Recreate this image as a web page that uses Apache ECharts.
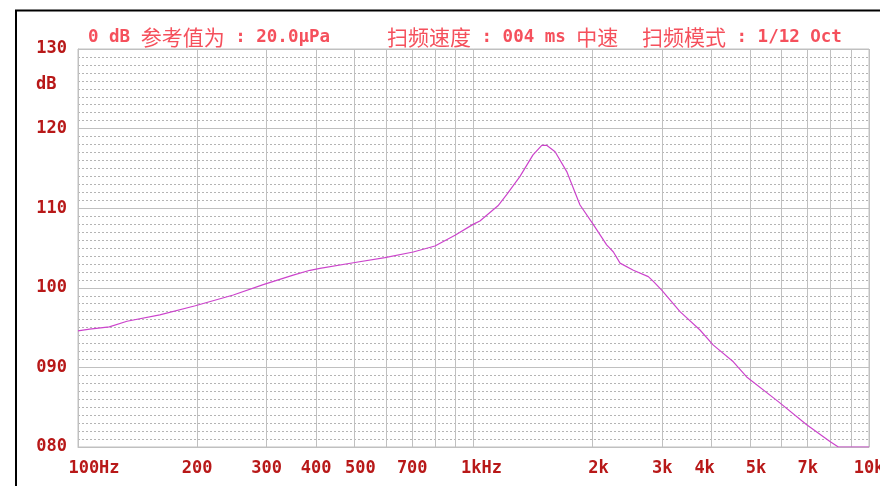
<!DOCTYPE html>
<html>
<head>
<meta charset="utf-8">
<script src="https://cdn.jsdelivr.net/npm/echarts@6/dist/echarts.min.js"></script>
<style>
  html, body { margin: 0; padding: 0; background: #fff; }
  #chart { width: 880px; height: 486px; }
</style>
</head>
<body>
<div id="chart"></div>
<script>
// 扫频曲线 (1/12 Oct)
const freqHz = [100, 107, 120, 133, 161, 198, 247, 294, 350, 386, 409, 497, 597, 704, 799, 898,
  1000, 1038, 1153, 1213, 1311, 1414, 1488, 1531, 1608, 1721, 1859, 2000, 2171, 2258, 2347,
  2536, 2767, 2849, 2991, 3328, 3738, 4040, 4539, 4906, 5898, 6958, 7967, 8364, 10000]
const levelDb = [94.6, 94.8, 95.1, 95.8, 96.6, 97.75, 99.1, 100.4, 101.6, 102.2, 102.45, 103.15, 103.8, 104.5, 105.25, 106.6,
  108.0, 108.4, 110.3, 111.7, 114.0, 116.7, 117.9, 117.9, 117.1, 114.6, 110.4, 108.1, 105.4, 104.5, 103.1,
  102.2, 101.4, 100.8, 99.7, 97.0, 94.7, 92.8, 90.7, 88.8, 85.7, 82.8, 80.7, 80.0, 80.0]

const gridFreqs = [100, 200, 300, 400, 500, 600, 700, 800, 900, 1000,
  2000, 3000, 4000, 5000, 6000, 7000, 8000, 9000, 10000]
const labelFreqs = [100, 200, 300, 400, 500, 700, 1000, 2000, 3000, 4000, 5000, 7000, 10000]
const labelText = ['100Hz', '200', '300', '400', '500', '700', '1kHz', '2k', '3k', '4k', '5k', '7k', '10k']

const dbMin = 80
const dbMax = 130
const dbStep = 10

const darkRed = '#b81818'
const titleRed = '#f5505c'
const monoFont = '"DejaVu Sans Mono", "Liberation Mono", monospace'
const cjkFont = '"Noto Sans CJK SC", sans-serif'

const chart = echarts.init(document.getElementById('chart'), null, { renderer: 'canvas' })

const titleRich = {
  l: { fontFamily: monoFont, fontWeight: 'bold', fontSize: 17.5, fill: titleRed },
  c: { fontFamily: cjkFont, fontSize: 21, fill: titleRed }
}

function titleText(x, text) {
  return {
    type: 'text',
    x: x,
    y: 37,
    silent: true,
    style: {
      text: text,
      verticalAlign: 'middle',
      rich: titleRich
    }
  }
}

const labelRich = {
  first: { padding: [0, 0, 0, 32], color: darkRed, fontFamily: monoFont, fontWeight: 'bold', fontSize: 17 },
  khz: { padding: [0, 0, 0, 16], color: darkRed, fontFamily: monoFont, fontWeight: 'bold', fontSize: 17 },
  r: { padding: [0, 0, 0, 12], color: darkRed, fontFamily: monoFont, fontWeight: 'bold', fontSize: 17 },
  lft: { padding: [0, 14, 0, 0], color: darkRed, fontFamily: monoFont, fontWeight: 'bold', fontSize: 17 }
}

const option = {
  animation: false,
  backgroundColor: '#fff',
  grid: {
    left: 78,
    top: 49,
    right: 11,
    bottom: 39,
    outerBoundsMode: 'none',
    show: true,
    borderColor: '#c0c0c0',
    borderWidth: 1
  },
  xAxis: {
    type: 'log',
    logBase: 10,
    min: 100,
    max: 10000,
    axisLine: { show: true, lineStyle: { color: '#c0c0c0' } },
    axisTick: { show: false, customValues: gridFreqs },
    axisLabel: {
      customValues: labelFreqs,
      margin: 13,
      color: darkRed,
      fontFamily: monoFont,
      fontWeight: 'bold',
      fontSize: 17,
      hideOverlap: false,
      formatter: function (v) {
        const i = labelFreqs.indexOf(Math.round(v))
        const t = i >= 0 ? labelText[i] : ''
        if (t === '100Hz') return '{first|' + t + '}'
        if (t === '1kHz') return '{khz|' + t + '}'
        if (t === '2k' || t === '5k' || t === '500') return '{r|' + t + '}'
        if (t === '4k') return '{lft|' + t + '}'
        return t
      },
      rich: labelRich
    },
    splitLine: { show: true, lineStyle: { color: '#c0c0c0', width: 1 } },
    minorSplitLine: { show: false }
  },
  yAxis: {
    type: 'value',
    min: dbMin,
    max: dbMax,
    interval: dbStep,
    axisLine: { show: true, lineStyle: { color: '#c0c0c0' } },
    axisTick: { show: false },
    axisLabel: {
      margin: 11,
      color: darkRed,
      fontFamily: monoFont,
      fontWeight: 'bold',
      fontSize: 17,
      formatter: function (v) { return String(v).padStart(3, '0') }
    },
    splitLine: { show: true, lineStyle: { color: '#c0c0c0', width: 1 } },
    minorTick: { show: false, splitNumber: 10 },
    minorSplitLine: { show: true, lineStyle: { color: '#b4b4b4', width: 1, type: [2, 2] } }
  },
  series: [
    {
      type: 'line',
      data: freqHz.map((f, i) => [f, levelDb[i]]),
      showSymbol: false,
      smooth: false,
      clip: true,
      lineStyle: { color: '#cc44cc', width: 1.2 },
      itemStyle: { color: '#cc44cc' }
    }
  ],
  graphic: [
    {
      type: 'polyline',
      silent: true,
      shape: { points: [[16, 486], [16, 10.5], [880, 10.5]] },
      style: { stroke: '#000', lineWidth: 2, fill: null }
    },
    {
      type: 'text',
      x: 36,
      y: 85,
      silent: true,
      style: {
        text: 'dB',
        fill: darkRed,
        font: 'bold 17px ' + monoFont,
        verticalAlign: 'middle'
      }
    },
    titleText(88, '{l|0 dB }{c|参考值为}{l| : 20.0μPa}'),
    titleText(387, '{c|扫频速度}{l| : 004 ms }{c|中速}'),
    titleText(642, '{c|扫频模式}{l| : 1/12 Oct}')
  ]
}

chart.setOption(option)

window.addEventListener('resize', () => {
  chart.resize()
})
</script>
</body>
</html>
